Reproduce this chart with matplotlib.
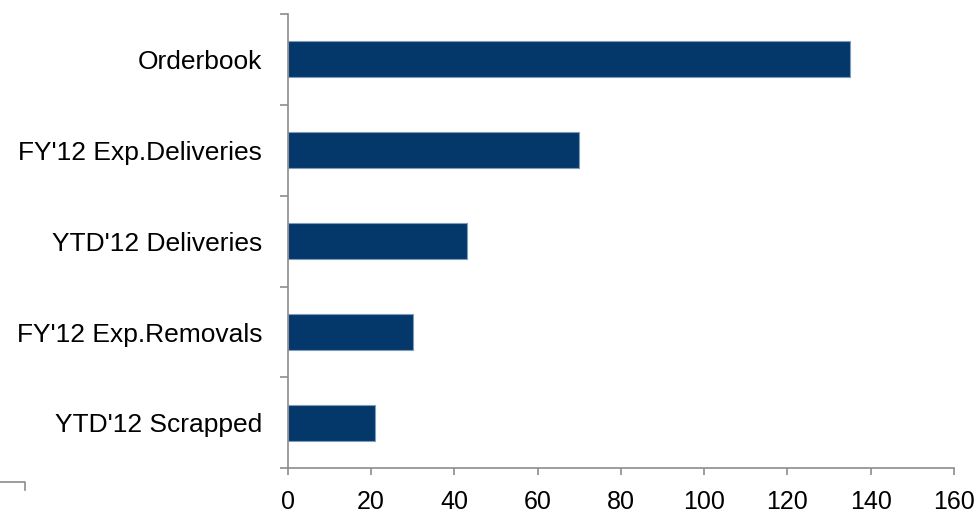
import matplotlib.pyplot as plt
from matplotlib.lines import Line2D

plt.rcParams['font.family'] = ['Liberation Sans', 'DejaVu Sans']

categories = ["YTD'12 Scrapped", "FY'12 Exp.Removals", "YTD'12 Deliveries",
              "FY'12 Exp.Deliveries", "Orderbook"]
values = [21, 30, 43, 70, 135]

fig = plt.figure(figsize=(9.79, 5.13), dpi=100)
ax = fig.add_axes([0.294, 0.087, 0.6805, 0.886])

pos = list(range(len(categories)))
ax.barh(pos, values, height=0.4, color='#04386a', edgecolor='#7f9cbf', linewidth=0.8)

ax.set_xlim(0, 160)
ax.set_ylim(-0.5, len(categories) - 0.5)
ax.set_xticks(range(0, 161, 20))
ax.set_yticks(pos)
ax.set_yticklabels(categories)
ax.set_yticks([p - 0.5 for p in pos] + [len(categories) - 0.5], minor=True)

gray = '#8c8c8c'
for side in ['top', 'right']:
    ax.spines[side].set_visible(False)
for side in ['left', 'bottom']:
    ax.spines[side].set_color(gray)
    ax.spines[side].set_linewidth(1.2)

ax.tick_params(axis='x', colors=gray, length=5, width=1.2, labelsize=18,
               labelcolor='black', pad=10.5)
ax.tick_params(axis='y', which='major', length=0, labelsize=19,
               labelcolor='black', pad=18.5)
ax.tick_params(axis='y', which='minor', colors=gray, length=6, width=1.2)

# small stray axis fragment at bottom left
fig.add_artist(Line2D([0, 25 / 979, 25 / 979], [1 - 482 / 513, 1 - 482 / 513, 1 - 490 / 513],
                      transform=fig.transFigure, color=gray, linewidth=1.2))

fig.savefig('out.png', dpi=100)
